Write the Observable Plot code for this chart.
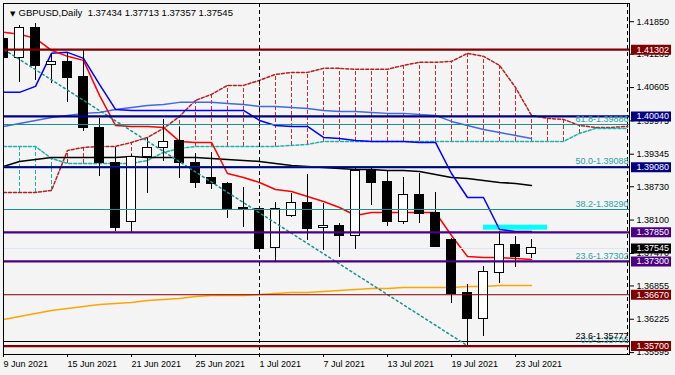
<!DOCTYPE html>
<html><head><meta charset="utf-8">
<script src="https://cdn.jsdelivr.net/npm/d3@7"></script>
<script src="https://cdn.jsdelivr.net/npm/@observablehq/plot@0.6"></script>
<style>
html,body{margin:0;padding:0;background:#F4F4F4;}
</style>
</head><body><div id="chart"></div>
<script>
// ---- data ----
const days = ["2021-06-09","2021-06-10","2021-06-11","2021-06-14","2021-06-15","2021-06-16","2021-06-17","2021-06-18","2021-06-21","2021-06-22","2021-06-23","2021-06-24","2021-06-25","2021-06-28","2021-06-29","2021-06-30","2021-07-01","2021-07-02","2021-07-05","2021-07-06","2021-07-07","2021-07-08","2021-07-09","2021-07-12","2021-07-13","2021-07-14","2021-07-15","2021-07-16","2021-07-19","2021-07-20","2021-07-21","2021-07-22","2021-07-23","2021-07-26"];
const open  = [1.41498,1.41138,1.41706,1.41006,1.41063,1.40779,1.39814,1.39152,1.38054,1.39265,1.39435,1.39568,1.39152,1.38868,1.38754,1.38300,1.38281,1.37562,1.38149,1.38395,1.37922,1.37960,1.37789,1.39000,1.38792,1.38054,1.38546,1.38224,1.37713,1.36711,1.36219,1.37089,1.37619,1.37434];
const high  = [1.41592,1.41763,1.41800,1.41214,1.41252,1.41290,1.40003,1.39454,1.39322,1.39624,1.39984,1.39833,1.39341,1.39360,1.38792,1.38697,1.38319,1.38414,1.38584,1.38943,1.38395,1.38016,1.39057,1.39076,1.39000,1.38887,1.38962,1.38603,1.37732,1.36862,1.37203,1.37865,1.37770,1.37713];
const low   = [1.41063,1.40684,1.40722,1.40665,1.40306,1.39757,1.38906,1.37865,1.37846,1.38584,1.39189,1.38868,1.38678,1.38660,1.38111,1.37941,1.37505,1.37278,1.38130,1.37695,1.37505,1.37373,1.37524,1.38357,1.37960,1.37997,1.38016,1.37562,1.36503,1.35710,1.35878,1.36881,1.37184,1.37357];
const close = [1.41138,1.41706,1.40987,1.41063,1.40760,1.39814,1.39152,1.37922,1.39265,1.39435,1.39549,1.39152,1.38773,1.38754,1.38281,1.38285,1.37543,1.38281,1.38395,1.37903,1.37960,1.37789,1.39000,1.38773,1.38054,1.38546,1.38205,1.37581,1.36692,1.36219,1.37108,1.37619,1.37392,1.37545];

const tenkan = [1.41630,1.41592,1.41516,1.41290,1.41176,1.41100,1.40438,1.39870,1.39852,1.39852,1.39833,1.39568,1.39549,1.39549,1.38962,1.38887,1.38792,1.38660,1.38622,1.38527,1.38433,1.38319,1.38168,1.38224,1.38224,1.38224,1.38224,1.38224,1.37789,1.37392,1.37373,1.37373,1.37354,1.37335];
const kijun  = [1.40495,1.40495,1.40608,1.41233,1.41252,1.41138,1.40646,1.40173,1.40154,1.40154,1.40154,1.40154,1.40154,1.40154,1.40154,1.40154,1.39965,1.39870,1.39852,1.39852,1.39643,1.39624,1.39587,1.39568,1.39568,1.39568,1.39549,1.39549,1.38962,1.38508,1.38508,1.37903,1.37865,1.37865];
const maBlue  = [1.39852,1.39908,1.39965,1.40022,1.40060,1.40098,1.40116,1.40173,1.40211,1.40249,1.40268,1.40306,1.40306,1.40306,1.40287,1.40268,1.40230,1.40230,1.40211,1.40192,1.40154,1.40135,1.40135,1.40116,1.40098,1.40098,1.40079,1.40060,1.39946,1.39870,1.39795,1.39738,1.39681,1.39624];
const maBlack = [1.39095,1.39189,1.39227,1.39265,1.39265,1.39265,1.39265,1.39265,1.39284,1.39265,1.39265,1.39265,1.39265,1.39246,1.39227,1.39208,1.39189,1.39152,1.39114,1.39095,1.39076,1.39057,1.39038,1.39038,1.39019,1.39019,1.39000,1.38943,1.38887,1.38868,1.38830,1.38792,1.38773,1.38735];
const maOrange = [1.36200,1.36257,1.36313,1.36370,1.36408,1.36446,1.36484,1.36503,1.36521,1.36559,1.36578,1.36597,1.36635,1.36654,1.36654,1.36654,1.36673,1.36692,1.36711,1.36711,1.36730,1.36749,1.36767,1.36786,1.36786,1.36805,1.36805,1.36805,1.36805,1.36824,1.36824,1.36843,1.36843,1.36843];

// Ichimoku cloud (shifted forward, one value per bar slot)
const spanA = [1.38603,1.38603,1.38603,1.38641,1.39397,1.39454,1.39473,1.39473,1.39549,1.39643,1.39814,1.40041,1.40344,1.40457,1.40627,1.40627,1.40722,1.40835,1.40873,1.40873,1.40949,1.40949,1.40930,1.40930,1.40930,1.41006,1.41063,1.41063,1.41081,1.41233,1.41176,1.41006,1.40589,1.40060,1.40003,1.39984,1.39870,1.39833,1.39833,1.39852];
const spanB = [1.39473,1.39473,1.39473,1.39246,1.39152,1.39152,1.39152,1.39152,1.39152,1.39208,1.39360,1.39435,1.39473,1.39473,1.39473,1.39473,1.39473,1.39473,1.39492,1.39511,1.39568,1.39568,1.39568,1.39568,1.39568,1.39568,1.39568,1.39568,1.39568,1.39568,1.39568,1.39568,1.39568,1.39568,1.39568,1.39568,1.39719,1.39814,1.39814,1.39814];

const xTickBars = [0,4,8,12,16,20,24,28,32];
const xTickLabels = ["9 Jun 2021","15 Jun 2021","21 Jun 2021","25 Jun 2021","1 Jul 2021","7 Jul 2021","13 Jul 2021","19 Jul 2021","23 Jul 2021"];
const yTicks = [1.41850,1.41235,1.40605,1.39975,1.39345,1.38730,1.38100,1.37470,1.36855,1.36225,1.35595];

const hLevels = [1.41302,1.40040,1.39080,1.37850,1.37300,1.36670,1.35700];
const hKinds  = ["maroon","navy","navy","indigo","indigo","maroonThin","maroon"];
const bidPrice = 1.37545;

const fibNames  = ["0.0","23.6","38.2","50.0","61.8"];
const fibValues = [1.35706,1.37302,1.38290,1.39088,1.39886];
const fib2Names = ["23.6"];
const fib2Values = [1.35777];
const fibTrendBars = [-6, 29];
const fibTrendPrices = [1.42470, 1.35706];

const zoneBars = [30, 34];
const zonePrices = [1.37890, 1.37985];

const titleText = "GBPUSD,Daily\u00a0 1.37434 1.37713 1.37357 1.37545";

// ---- styles ----
const RED_D = "#D42A2A", TEAL_C = "#20B2AA", TEAL_F = "#1A9090", TEAL_T = "#2AA0A6";
const kindStyle = {
  maroon: {stroke: "#800000", w: 2.2},
  maroonThin: {stroke: "#800000", w: 1},
  navy: {stroke: "#000080", w: 2.2},
  indigo: {stroke: "#4B0082", w: 2.2}
};

// ---- build tables ----
const bars = days.map((d, i) => ({i, date: d, o: open[i], h: high[i], l: low[i], c: close[i]}));
const cloud = spanA.map((a, k) => ({k, a, b: spanB[k]}));
const cloudUp = cloud.filter(d => d.a > d.b);
const cloudDown = cloud.filter(d => d.a <= d.b);
const series = arr => arr.map((v, i) => ({i, v}));
const hLines = hLevels.map((v, j) => ({v, stroke: kindStyle[hKinds[j]].stroke, w: kindStyle[hKinds[j]].w}));
const priceTags = hLines.map(d => ({v: d.v, color: d.stroke})).concat([{v: bidPrice, color: "#000000"}]);
const fibs = fibValues.map((v, j) => ({v, name: fibNames[j]}));
const fibs2 = fib2Values.map((v, j) => ({v, name: fib2Names[j]}));
const fibTrend = fibTrendBars.map((b, j) => ({bar: b, price: fibTrendPrices[j]}));
const zone = [{x1: zoneBars[0], x2: zoneBars[1], y1: zonePrices[0], y2: zonePrices[1]}];
const monthStart = days.indexOf("2021-07-01");

const xMax = 39.125;
const crisp = {shapeRendering: "crispEdges"};

const chart = Plot.plot({
  width: 675, height: 375,
  marginLeft: 3, marginRight: 46, marginTop: 3, marginBottom: 21,
  x: {domain: [0, xMax]},
  y: {domain: [1.35540, 1.42175]},
  color: {type: "identity"},
  style: {background: "#F4F4F4", fontFamily: "'Liberation Sans', Arial, sans-serif", fontSize: "9px", color: "black"},
  marks: [
    Plot.rect(zone, {x1: "x1", x2: "x2", y1: "y1", y2: "y2", fill: "#00FFFF"}),
    // cloud hatching
    Plot.ruleX(cloudUp, {x: "k", y1: "b", y2: "a", stroke: RED_D, strokeWidth: 1, strokeDasharray: "4,2", clip: true, ...crisp}),
    Plot.ruleX(cloudDown, {x: "k", y1: "a", y2: "b", stroke: TEAL_C, strokeWidth: 1, strokeDasharray: "4,2", clip: true, ...crisp}),
    Plot.line(cloud, {x: "k", y: "a", stroke: "#B22222", strokeDasharray: "3,2", clip: true}),
    Plot.line(cloud, {x: "k", y: "b", stroke: TEAL_C, strokeDasharray: "3,2", clip: true}),
    // indicators
    Plot.line(series(maOrange), {x: "i", y: "v", stroke: "#FFA500", clip: true}),
    Plot.line(series(maBlack), {x: "i", y: "v", stroke: "#000000", clip: true}),
    Plot.line(series(maBlue), {x: "i", y: "v", stroke: "#4169E1", clip: true}),
    Plot.line(series(kijun), {x: "i", y: "v", stroke: "#0000FF", clip: true}),
    Plot.line(series(tenkan), {x: "i", y: "v", stroke: "#FF0000", clip: true}),
    Plot.ruleY([bidPrice], {stroke: "#dfe3f4", ...crisp}),
    // candles
    Plot.ruleX(bars, {x: "i", y1: "l", y2: "h", stroke: "black", clip: true, ...crisp}),
    Plot.rect(bars, {x1: d => d.i - 0.31, x2: d => d.i + 0.31, y1: "o", y2: "c", fill: d => d.c >= d.o ? "#FFFFFF" : "#000000", stroke: "black", clip: true, ...crisp}),
    // separators
    Plot.ruleX([monthStart], {stroke: "black", strokeDasharray: "4,3", ...crisp}),
    Plot.ruleX([xMax - 0.1], {stroke: "black", strokeDasharray: "4,3", ...crisp}),
    // fibonacci
    Plot.ruleY(fibs, {y: "v", stroke: TEAL_F, clip: true, ...crisp}),
    Plot.ruleY(fibs2, {y: "v", stroke: "#000000", clip: true, ...crisp}),
    Plot.line(fibTrend, {x: "bar", y: "price", stroke: TEAL_F, strokeDasharray: "2,3", clip: true}),
    // horizontal lines
    Plot.ruleY(hLines, {y: "v", stroke: "stroke", strokeWidth: "w"}),
    Plot.text(fibs, {y: "v", text: d => `${d.name}-${d.v.toFixed(5)}`, frameAnchor: "right", textAnchor: "end", lineAnchor: "bottom", dx: -1, dy: -2.5, fill: TEAL_T, fontSize: 9}),
    Plot.text(fibs2, {y: "v", text: d => `${d.name}-${d.v.toFixed(5)}`, frameAnchor: "right", textAnchor: "end", lineAnchor: "bottom", dx: -1, dy: -2.5, fill: "#000000", fontSize: 9}),
    Plot.frame({stroke: "black", ...crisp}),
    // axes
    Plot.axisX({ticks: xTickBars, tickFormat: d => xTickLabels[xTickBars.indexOf(d)], tickSize: 3, tickPadding: 3, textAnchor: "start", fontSize: 9, label: null}),
    Plot.axisY({anchor: "right", ticks: yTicks, tickSize: 4, tickPadding: 3, tickFormat: d => d.toFixed(5), fontSize: 9, dy: 1, label: null}),
    // price tags
    Plot.ruleY(priceTags, {y: "v", x1: xMax + 0.125, x2: xMax + 2.625, stroke: "color", strokeWidth: 10}),
    Plot.text(priceTags, {y: "v", text: d => d.v.toFixed(5), frameAnchor: "right", dx: 7, textAnchor: "start", fill: "#FFFFFF", fontSize: 9}),
    // title
    Plot.text(["\u25BC"], {text: d => d, frameAnchor: "top-left", dx: 6.5, dy: 8, fontSize: 7, fontFamily: "DejaVu Sans", fill: "black"}),
    Plot.text([titleText], {text: d => d, frameAnchor: "top-left", dx: 15, dy: 5.3, lineAnchor: "top", textAnchor: "start", fontSize: 9.5, fill: "black"})
  ]
});
document.getElementById("chart").append(chart);
</script>
</body></html>
